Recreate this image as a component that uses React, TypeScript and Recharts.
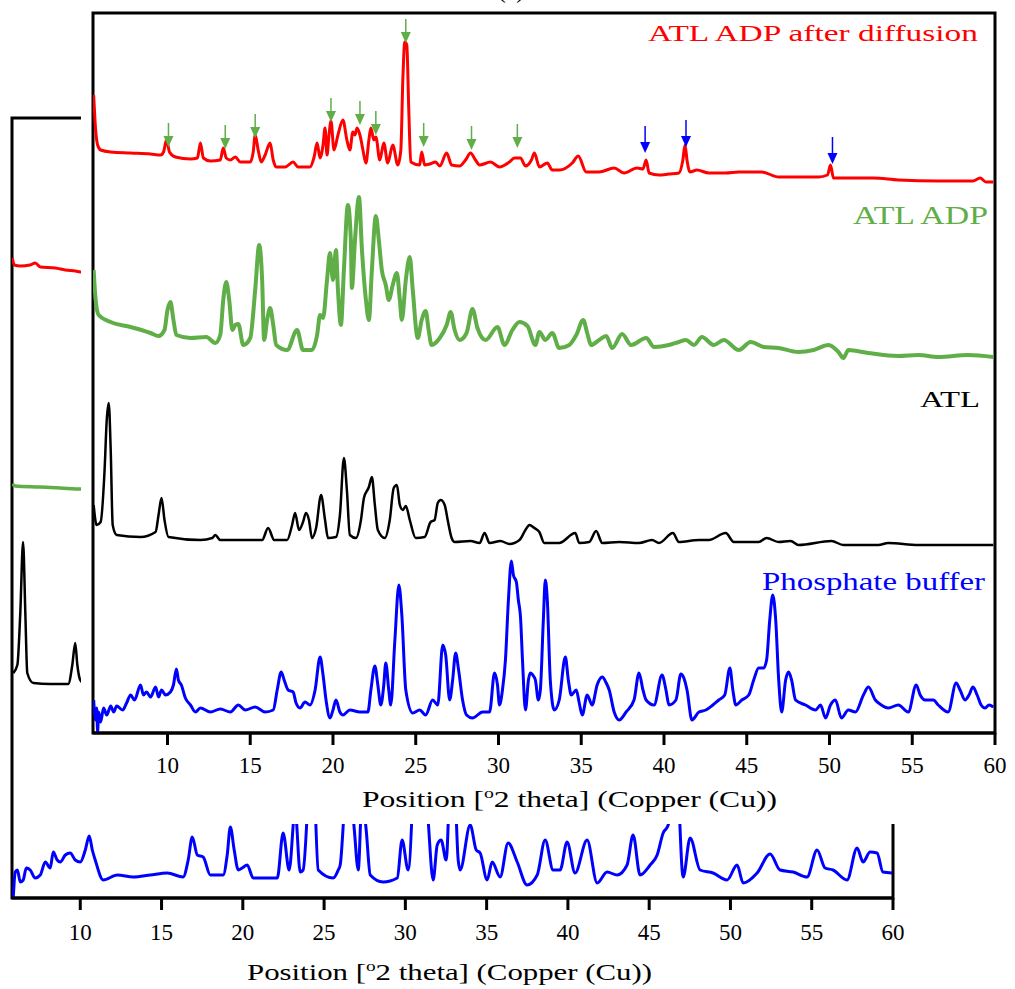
import { ComposedChart, Line, Scatter, XAxis, YAxis, ReferenceArea } from 'recharts';

// XRD patterns, [2theta, intensity (a.u., stacked as plotted)]
const redPts = [
  [5.54, 638], [5.66, 603], [5.78, 588], [5.96, 583], [6.57, 581], [7.77, 580], [8.98, 579], [9.58, 578],
  [9.76, 581], [9.94, 593], [10.12, 581], [10.48, 576], [11.39, 574], [11.81, 575], [11.99, 590], [12.17, 575],
  [12.59, 572], [13.19, 573], [13.37, 585], [13.55, 575], [13.8, 573], [14.1, 576], [14.4, 571], [15.0, 571],
  [15.18, 581], [15.3, 598], [15.48, 583], [15.66, 571], [15.9, 578], [16.2, 590], [16.39, 573], [16.57, 566],
  [17.11, 566], [17.59, 571], [17.89, 566], [18.61, 566], [18.86, 576], [19.04, 590], [19.22, 575], [19.4, 588],
  [19.52, 605], [19.64, 578], [19.76, 598], [19.88, 612], [20.06, 583], [20.3, 598], [20.6, 613], [20.84, 593],
  [21.02, 583], [21.2, 601], [21.33, 598], [21.45, 605], [21.63, 598], [21.81, 583], [21.99, 570], [22.17, 593],
  [22.29, 605], [22.47, 593], [22.59, 596], [22.83, 573], [23.07, 590], [23.31, 570], [23.61, 588], [23.92, 568],
  [24.1, 583], [24.22, 653], [24.34, 691], [24.46, 688], [24.58, 623], [24.7, 571], [25.24, 568], [25.36, 581],
  [25.54, 568], [25.84, 569], [26.2, 571], [26.45, 567], [26.87, 580], [27.17, 568], [27.65, 567], [28.01, 573],
  [28.31, 580], [28.61, 573], [28.86, 568], [29.52, 571], [30.06, 566], [30.66, 571], [30.96, 575], [31.33, 575],
  [31.63, 567], [31.99, 573], [32.17, 580], [32.47, 566], [32.95, 570], [33.25, 563], [33.67, 563], [34.46, 570],
  [34.82, 577], [35.3, 561], [36.08, 561], [36.99, 565], [37.59, 560], [38.37, 565], [38.73, 564], [38.92, 573],
  [39.1, 560], [39.7, 558], [40.3, 559], [40.9, 560], [41.14, 573], [41.27, 588], [41.39, 573], [41.57, 561],
  [41.99, 563], [42.71, 560], [43.73, 560], [44.52, 561], [45.9, 561], [46.93, 556], [48.13, 556], [49.34, 556],
  [49.88, 558], [50.06, 568], [50.24, 555], [51.14, 555], [52.65, 555], [54.16, 553], [56.57, 552], [58.67, 552],
  [59.1, 555], [59.46, 551], [59.9, 551],
];

const greenPts = [
  [5.54, 463], [5.66, 433], [5.84, 418], [6.57, 411], [7.77, 406], [8.98, 400], [9.46, 397], [9.82, 403],
  [10.0, 423], [10.18, 431], [10.36, 413], [10.54, 398], [11.39, 395], [12.35, 396], [12.89, 390], [13.19, 398],
  [13.37, 433], [13.55, 451], [13.73, 433], [13.92, 403], [14.1, 408], [14.28, 409], [14.58, 388], [15.0, 395],
  [15.3, 443], [15.54, 488], [15.72, 453], [15.84, 393], [16.02, 413], [16.2, 425], [16.39, 408], [16.57, 388],
  [17.23, 383], [17.83, 403], [18.19, 383], [18.73, 383], [19.04, 398], [19.22, 418], [19.4, 415], [19.64, 453],
  [19.82, 480], [20.0, 453], [20.18, 483], [20.3, 443], [20.48, 408], [20.66, 463], [20.9, 528], [21.08, 493],
  [21.14, 445], [21.33, 493], [21.57, 536], [21.75, 483], [21.99, 433], [22.17, 413], [22.35, 463], [22.59, 517],
  [22.77, 493], [22.95, 463], [23.19, 448], [23.37, 433], [23.61, 448], [23.86, 460], [24.04, 433], [24.16, 413],
  [24.4, 453], [24.64, 476], [24.82, 443], [25.12, 395], [25.36, 413], [25.6, 422], [25.78, 403], [25.96, 388],
  [26.45, 395], [26.87, 408], [27.11, 421], [27.35, 403], [27.65, 393], [28.07, 400], [28.43, 424], [28.73, 405],
  [29.22, 393], [29.94, 406], [30.36, 388], [30.84, 403], [31.27, 411], [31.75, 407], [32.23, 388], [32.47, 401],
  [32.83, 393], [33.25, 400], [33.67, 385], [34.28, 388], [34.7, 398], [35.12, 413], [35.36, 400], [35.6, 388],
  [36.08, 393], [36.51, 397], [36.87, 385], [37.47, 399], [38.01, 388], [38.92, 395], [39.4, 386], [40.3, 388],
  [40.9, 391], [41.33, 393], [41.81, 388], [42.29, 396], [43.01, 388], [43.61, 393], [44.52, 383], [45.24, 391],
  [46.02, 386], [46.93, 385], [48.13, 381], [49.04, 383], [49.94, 388], [50.54, 381], [50.84, 375], [51.14, 383],
  [52.35, 380], [54.16, 377], [55.36, 378], [56.57, 376], [58.37, 378], [59.9, 376],
];

const blackPts = [
  [5.54, 228], [5.72, 208], [5.96, 211], [6.2, 263], [6.33, 313], [6.45, 330], [6.57, 283], [6.69, 208],
  [6.93, 198], [8.37, 196], [9.28, 201], [9.46, 218], [9.64, 235], [9.82, 213], [10.06, 196], [11.99, 193],
  [12.71, 195], [12.89, 198], [13.19, 193], [15.72, 193], [16.08, 205], [16.45, 193], [17.23, 193], [17.53, 208],
  [17.71, 220], [17.95, 203], [18.19, 211], [18.37, 220], [18.55, 213], [18.73, 195], [18.98, 205], [19.28, 238],
  [19.52, 213], [19.7, 195], [20.18, 196], [20.42, 218], [20.66, 275], [20.84, 243], [21.02, 198], [21.39, 195],
  [21.69, 213], [21.87, 235], [22.17, 246], [22.35, 256], [22.53, 228], [22.71, 203], [23.13, 195], [23.43, 213],
  [23.67, 245], [23.86, 248], [24.04, 228], [24.22, 223], [24.4, 227], [24.64, 213], [25.0, 195], [25.54, 196],
  [25.9, 211], [26.14, 213], [26.33, 230], [26.51, 233], [26.75, 228], [26.93, 213], [27.17, 195], [27.35, 191],
  [28.31, 192], [28.86, 190], [29.16, 200], [29.46, 190], [30.12, 192], [30.66, 189], [31.27, 193], [31.63, 203],
  [31.87, 208], [32.17, 205], [32.47, 201], [32.77, 190], [33.67, 190], [34.64, 200], [34.88, 190], [35.48, 191],
  [35.9, 202], [36.27, 190], [37.29, 191], [38.49, 190], [39.28, 193], [39.7, 190], [40.54, 200], [40.9, 191],
  [42.11, 193], [42.71, 193], [43.73, 200], [44.22, 191], [45.72, 191], [46.2, 195], [46.93, 191], [47.65, 192],
  [48.13, 188], [50.12, 192], [50.84, 188], [52.95, 188], [53.55, 190], [55.36, 188], [57.77, 188], [59.9, 188],
];

const bluePts = [
  [5.54, 33], [5.66, 13], [5.72, 25], [5.78, 1], [5.84, 21], [5.96, 11], [6.14, 25], [6.33, 18], [6.57, 27],
  [6.75, 21], [6.93, 27], [7.29, 23], [7.53, 30], [7.77, 38], [8.01, 33], [8.37, 48], [8.55, 38], [8.73, 41],
  [8.98, 36], [9.28, 46], [9.46, 36], [9.64, 43], [9.88, 38], [10.18, 41], [10.36, 48], [10.54, 64], [10.66, 53],
  [10.84, 48], [11.08, 35], [11.39, 28], [11.69, 21], [11.99, 25], [12.59, 21], [13.19, 24], [13.8, 21],
  [14.28, 28], [14.7, 23], [15.3, 26], [15.9, 21], [16.39, 23], [16.63, 43], [16.87, 61], [17.05, 53],
  [17.29, 43], [17.59, 41], [17.77, 30], [18.01, 25], [18.31, 31], [18.61, 28], [18.92, 43], [19.22, 76],
  [19.4, 58], [19.58, 33], [19.82, 15], [20.0, 23], [20.18, 33], [20.42, 21], [20.6, 18], [21.02, 23],
  [21.63, 21], [22.11, 21], [22.29, 43], [22.53, 67], [22.71, 48], [22.89, 28], [23.07, 48], [23.19, 70],
  [23.37, 43], [23.49, 28], [23.74, 93], [23.98, 148], [24.16, 118], [24.4, 43], [24.82, 20], [25.24, 23],
  [25.6, 18], [26.02, 33], [26.33, 28], [26.63, 88], [26.81, 78], [27.05, 33], [27.23, 53], [27.41, 80],
  [27.59, 63], [27.83, 33], [28.07, 18], [28.43, 15], [29.04, 21], [29.46, 21], [29.76, 60], [29.94, 48],
  [30.06, 28], [30.24, 43], [30.42, 73], [30.6, 133], [30.78, 172], [30.9, 158], [31.08, 151], [31.2, 133],
  [31.33, 116], [31.45, 73], [31.63, 23], [31.81, 53], [31.93, 60], [32.11, 57], [32.23, 53], [32.41, 33],
  [32.53, 43], [32.71, 113], [32.83, 153], [32.95, 133], [33.13, 53], [33.37, 23], [33.67, 33], [34.04, 76],
  [34.22, 53], [34.4, 38], [34.7, 43], [34.88, 30], [35.06, 18], [35.36, 38], [35.66, 28], [35.96, 48],
  [36.27, 56], [36.51, 50], [36.69, 43], [36.99, 21], [37.29, 13], [37.71, 21], [38.19, 33], [38.49, 60],
  [38.73, 43], [38.92, 33], [39.4, 28], [39.88, 58], [40.12, 43], [40.3, 28], [40.72, 33], [41.02, 59],
  [41.2, 55], [41.39, 43], [41.69, 13], [42.11, 21], [42.53, 23], [42.95, 28], [43.31, 33], [43.67, 38],
  [43.98, 65], [44.16, 43], [44.34, 28], [44.7, 33], [45.12, 38], [45.42, 53], [45.72, 65], [46.02, 65],
  [46.2, 73], [46.39, 113], [46.57, 138], [46.75, 113], [46.93, 53], [47.11, 21], [47.35, 53], [47.53, 61],
  [47.71, 53], [47.95, 33], [48.55, 28], [49.16, 23], [49.46, 28], [49.76, 15], [50.06, 28], [50.36, 33],
  [50.72, 15], [51.14, 23], [51.57, 21], [52.05, 38], [52.35, 46], [52.77, 33], [53.13, 28], [53.55, 25],
  [54.16, 28], [54.76, 21], [55.24, 48], [55.48, 38], [55.78, 33], [56.27, 33], [56.57, 28], [57.17, 21],
  [57.65, 50], [57.89, 43], [58.19, 33], [58.43, 38], [58.67, 46], [58.92, 38], [59.16, 28], [59.4, 25],
  [59.64, 28], [59.9, 26],
];

// earlier panel showing behind the main one
const backRedPts = [
  [5.82, 640], [5.94, 633], [6.31, 632], [6.92, 633], [7.23, 635], [7.54, 631], [8.46, 630], [9.08, 628],
  [9.69, 627], [10.12, 626], [10.92, 626],
];
const backGreenPts = [[5.82, 414], [6.0, 412], [7.54, 411], [8.77, 410], [10.12, 409], [10.92, 409]];
const backBlackPts = [
  [5.88, 225], [6.13, 233], [6.31, 285], [6.48, 356], [6.62, 285], [6.74, 225], [7.11, 215], [8.15, 214],
  [9.26, 214], [9.51, 233], [9.69, 255], [9.82, 233], [10.0, 218], [10.31, 214], [10.92, 214],
];
const backBluePts = [
  [5.88, 1], [6.0, 26], [6.13, 28], [6.31, 16], [6.49, 18], [6.68, 30], [6.92, 28], [7.23, 20], [7.54, 23],
  [7.85, 36], [8.15, 30], [8.34, 46], [8.58, 38], [8.77, 36], [9.08, 43], [9.38, 45], [9.69, 38], [10.0, 36],
  [10.31, 48], [10.55, 62], [10.74, 48], [10.92, 38], [11.41, 18], [12.28, 23], [13.26, 21], [14.31, 23],
  [15.35, 25], [16.33, 21], [16.64, 38], [16.89, 61], [17.2, 43], [17.56, 41], [18.0, 23], [18.79, 23],
  [19.04, 43], [19.23, 71], [19.47, 48], [19.72, 28], [19.96, 30], [20.27, 33], [20.64, 20], [22.12, 20],
  [22.48, 65], [22.85, 28], [23.22, 88], [23.53, 26], [23.71, 28], [24.27, 158], [24.64, 28], [25.56, 20],
  [25.87, 28], [25.99, 33], [26.36, 108], [26.61, 113], [26.86, 68], [27.1, 28], [27.34, 103], [27.59, 68],
  [27.84, 23], [28.63, 16], [29.5, 20], [29.8, 58], [30.17, 28], [30.79, 198], [31.22, 118], [31.4, 78],
  [31.71, 18], [31.96, 53], [32.2, 58], [32.51, 38], [32.88, 178], [33.25, 38], [33.37, 28], [33.99, 73],
  [34.36, 48], [34.6, 45], [35.03, 18], [35.34, 36], [35.83, 21], [36.32, 55], [36.88, 36], [37.49, 13],
  [38.11, 23], [38.6, 58], [39.09, 28], [39.52, 28], [39.95, 56], [40.44, 25], [41.18, 58], [41.8, 15],
  [42.41, 26], [43.03, 23], [43.64, 33], [44.01, 63], [44.44, 23], [45.06, 33], [45.49, 43], [45.86, 65],
  [46.17, 73], [46.66, 138], [47.09, 21], [47.52, 60], [48.13, 28], [48.93, 25], [49.79, 18], [50.41, 33],
  [50.78, 15], [51.64, 25], [52.44, 44], [53.05, 28], [53.85, 26], [54.71, 21], [55.33, 48], [55.82, 30],
  [56.31, 28], [57.17, 18], [57.79, 50], [58.16, 36], [58.59, 46], [59.02, 45], [59.38, 26], [59.94, 25],
];

// reflections marked on the diffusion pattern: [2theta, intensity at arrow tip]
const arrowsGreenPts = [
  [10.06, 586], [13.49, 584], [15.3, 595], [19.88, 611], [21.63, 608], [22.59, 598], [24.4, 690],
  [25.48, 586], [28.37, 583], [31.14, 585],
];
const arrowsBluePts = [[38.86, 580], [41.33, 586], [50.18, 569]];

const xTicks = [10, 15, 20, 25, 30, 35, 40, 45, 50, 55, 60];
const yTicks = [180, 360, 540];

const toRows = (pts: number[][]) => pts.map(([x, y]) => ({ x, y }));

const FONT = '"Liberation Serif", "Times New Roman", serif';
const RED = '#ff0000';
const GREEN = '#5fae47';
const BLUE = '#0000ff';

const Tick = (props: any) => (
  <text x={props.x} y={props.y + 16} textAnchor="middle" fontSize={23} fontFamily={FONT} fill="#000">
    {props.payload.value}
  </text>
);

function arrowShape(color: string, len: number) {
  return (p: any) => {
    const { cx, cy } = p;
    return (
      <g>
        <line x1={cx} y1={cy - len} x2={cx} y2={cy - 9} stroke={color} strokeWidth={1.5} />
        <polygon points={`${cx - 5},${cy - 11} ${cx + 5},${cy - 11} ${cx},${cy}`} fill={color} />
      </g>
    );
  };
}

function BackPanel() {
  return (
    <ComposedChart width={1015} height={989} margin={{ top: 118, right: 122, bottom: 31, left: 12 }}>
      <XAxis
        type="number"
        dataKey="x"
        domain={[5.8, 60]}
        allowDataOverflow
        ticks={xTicks}
        height={60}
        tickSize={12}
        tickMargin={14}
        tick={<Tick />}
        axisLine={{ stroke: '#000', strokeWidth: 3 }}
        tickLine={{ stroke: '#000', strokeWidth: 3 }}
      />
      <YAxis hide width={0} domain={[0, 780]} allowDataOverflow />
      <ReferenceArea x1={5.8} x2={60} y1={0} y2={780} fill="none" stroke="#000" strokeWidth={3} />
      <Line data={toRows(backRedPts)} dataKey="y" stroke={RED} strokeWidth={3} dot={false} type="monotone" isAnimationActive={false} />
      <Line data={toRows(backGreenPts)} dataKey="y" stroke={GREEN} strokeWidth={3.5} dot={false} type="monotone" isAnimationActive={false} />
      <Line data={toRows(backBlackPts)} dataKey="y" stroke="#000" strokeWidth={2.5} dot={false} type="monotone" isAnimationActive={false} />
      <Line data={toRows(backBluePts)} dataKey="y" stroke={BLUE} strokeWidth={3} dot={false} type="monotone" isAnimationActive={false} />
    </ComposedChart>
  );
}

function MainPanel() {
  return (
    <ComposedChart width={1015} height={824} margin={{ top: 13, right: 20, bottom: 31, left: 93 }}>
      <XAxis
        type="number"
        dataKey="x"
        domain={[5.5, 60]}
        allowDataOverflow
        ticks={xTicks}
        height={60}
        tickSize={12}
        tickMargin={12}
        tick={<Tick />}
        axisLine={{ stroke: '#000', strokeWidth: 3 }}
        tickLine={{ stroke: '#000', strokeWidth: 3 }}
      />
      <YAxis yAxisId="l" orientation="left" mirror width={0} domain={[0, 720]} allowDataOverflow ticks={yTicks}
        tickSize={5} axisLine={false} tickLine={{ stroke: '#000', strokeWidth: 1.5 }} tickFormatter={() => ''} />
      <YAxis yAxisId="r" orientation="right" mirror width={0} domain={[0, 720]} allowDataOverflow ticks={yTicks}
        tickSize={5} axisLine={false} tickLine={{ stroke: '#000', strokeWidth: 1.5 }} tickFormatter={() => ''} />
      <ReferenceArea yAxisId="l" x1={5.5} x2={60} y1={0} y2={720} fill="none" stroke="#000" strokeWidth={3} />
      <Line yAxisId="l" data={toRows(redPts)} dataKey="y" stroke={RED} strokeWidth={3} dot={false} type="monotone" isAnimationActive={false} />
      <Line yAxisId="l" data={toRows(greenPts)} dataKey="y" stroke={GREEN} strokeWidth={4} dot={false} type="monotone" isAnimationActive={false} />
      <Line yAxisId="l" data={toRows(blackPts)} dataKey="y" stroke="#000" strokeWidth={2.5} dot={false} type="monotone" isAnimationActive={false} />
      <Line yAxisId="l" data={toRows(bluePts)} dataKey="y" stroke={BLUE} strokeWidth={3} dot={false} type="monotone" isAnimationActive={false} />
      <Scatter yAxisId="l" data={toRows(arrowsGreenPts)} dataKey="y" shape={arrowShape(GREEN, 24)} isAnimationActive={false} />
      <Scatter yAxisId="l" data={toRows(arrowsBluePts)} dataKey="y" shape={arrowShape(BLUE, 27)} isAnimationActive={false} />
    </ComposedChart>
  );
}

function AxisTitle({ x, y, w }: { x: number; y: number; w: number }) {
  return (
    <text x={x} y={y} fontSize={24} fontFamily={FONT} fill="#000" textLength={w} lengthAdjust="spacingAndGlyphs">
      Position [<tspan fontSize={15} dy={-9}>o</tspan><tspan dy={9}>2 theta] (Copper (Cu))</tspan>
    </text>
  );
}

export default function App() {
  return (
    <div style={{ position: 'absolute', left: 0, top: 0, width: 1015, height: 989, background: '#fff', overflow: 'hidden' }}>
      <div style={{ position: 'absolute', left: 0, top: 0 }}>
        <BackPanel />
      </div>
      <div style={{ position: 'absolute', left: 81, top: 0, width: 934, height: 824, background: '#fff' }} />
      <div style={{ position: 'absolute', left: 0, top: 0 }}>
        <MainPanel />
      </div>
      <svg width={1015} height={989} style={{ position: 'absolute', left: 0, top: 0, pointerEvents: 'none' }}>
        <text x={511} y={-2} textAnchor="middle" fontSize={24} fontFamily={FONT} fill="#000">(a)</text>
        <text x={648} y={41} fontSize={24} fontFamily={FONT} fill={RED} textLength={330} lengthAdjust="spacingAndGlyphs">
          ATL ADP after diffusion
        </text>
        <text x={853} y={224} fontSize={25} fontFamily={FONT} fill={GREEN} textLength={135} lengthAdjust="spacingAndGlyphs">
          ATL ADP
        </text>
        <text x={920} y={407} fontSize={24} fontFamily={FONT} fill="#000" textLength={60} lengthAdjust="spacingAndGlyphs">
          ATL
        </text>
        <text x={762} y={590} fontSize={25} fontFamily={FONT} fill={BLUE} textLength={223} lengthAdjust="spacingAndGlyphs">
          Phosphate buffer
        </text>
        <AxisTitle x={362} y={807} w={415} />
        <AxisTitle x={247} y={980} w={405} />
      </svg>
    </div>
  );
}
